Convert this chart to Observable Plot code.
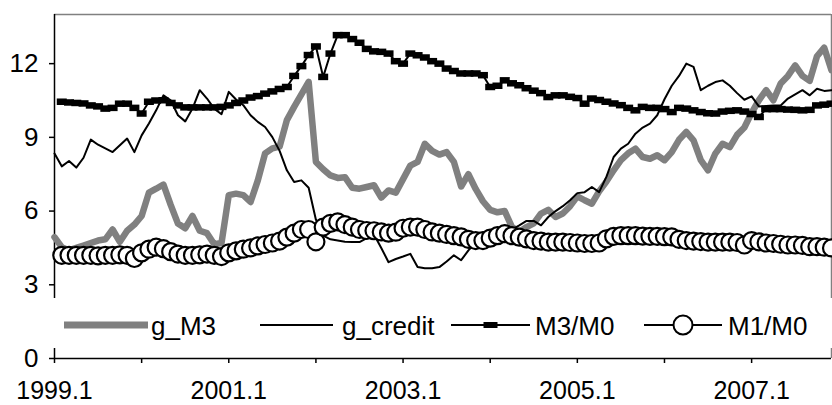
<!DOCTYPE html>
<html><head><meta charset="utf-8">
<script src="https://cdn.jsdelivr.net/npm/d3@7"></script>
<script src="https://cdn.jsdelivr.net/npm/@observablehq/plot@0.6"></script>
<style>
html,body{margin:0;padding:0;background:#fff;}
#chart{width:832px;height:405px;}
svg{font-family:"Liberation Sans",Arial,sans-serif;}
</style></head><body><div id="chart"></div>
<script>
// Monthly series, 1999.1 .. 2007.12
const gM3 = [4.94,4.53,4.4,4.5,4.6,4.7,4.8,4.85,5.25,4.75,5.2,5.45,
  5.8,6.75,6.91,7.08,6.25,5.49,5.3,5.8,5.2,5.1,4.65,4.7,
  6.65,6.71,6.65,6.37,7.25,8.35,8.55,8.62,9.7,10.24,10.75,11.26,
  8.0,7.7,7.45,7.35,7.38,6.95,6.91,6.98,7.05,6.55,6.84,6.75,
  7.3,7.85,8.0,8.74,8.45,8.3,8.4,8.0,7.0,7.5,6.9,6.4,
  6.05,5.95,6.0,5.35,5.15,5.35,5.5,5.9,6.05,5.76,5.9,6.2,
  6.6,6.44,6.3,6.8,7.2,7.66,8.07,8.35,8.54,8.2,8.13,8.27,
  8.07,8.4,8.9,9.22,8.88,8.07,7.66,8.34,8.74,8.6,9.1,9.4,
  10.0,10.51,10.92,10.51,11.19,11.5,11.93,11.5,11.3,12.3,12.65,11.73];
const gCredit = [8.34,7.82,8.04,7.77,8.17,8.91,8.7,8.55,8.4,8.68,8.95,8.4,
  9.08,9.56,10.1,10.71,10.51,9.9,9.65,10.17,10.92,10.58,10.17,9.94,
  10.85,10.54,10.31,9.9,9.63,9.42,9.01,8.45,7.66,7.18,7.25,6.95,
  5.65,5.0,4.85,4.8,4.75,4.74,4.74,4.9,5.05,4.5,3.92,4.05,
  4.15,4.26,3.72,3.67,3.67,3.72,3.95,4.2,4.0,4.4,4.7,4.8,
  4.9,5.0,5.1,5.25,5.42,5.6,5.6,5.42,5.76,6.0,6.2,6.44,
  6.73,6.77,6.98,6.77,7.39,8.2,8.54,8.74,9.15,9.4,9.56,9.9,
  10.55,11.1,11.5,12.0,11.87,10.92,11.1,11.25,11.32,11.1,10.8,10.53,
  10.67,10.26,10.28,10.3,10.3,10.58,10.75,10.92,10.71,10.98,10.89,10.92];
const m3m0 = [null,10.45,10.42,10.4,10.38,10.3,10.26,10.17,10.2,10.37,10.37,10.2,
  9.97,10.45,10.5,10.51,10.4,10.3,10.22,10.22,10.22,10.22,10.22,10.24,
  10.3,10.4,10.5,10.62,10.68,10.78,10.87,10.97,11.05,11.5,11.9,12.35,
  12.7,11.46,12.41,13.16,13.16,13.0,12.85,12.6,12.5,12.48,12.41,12.1,
  12.0,12.41,12.34,12.25,12.1,12.0,11.8,11.7,11.6,11.6,11.6,11.53,
  11.05,11.1,11.32,11.2,11.12,11.0,10.9,10.8,10.64,10.71,10.71,10.65,
  10.6,10.37,10.58,10.52,10.45,10.38,10.31,10.2,10.1,10.24,10.2,10.2,
  10.15,10.03,10.2,10.17,10.1,10.03,9.98,9.97,10.05,10.08,10.1,10.05,
  9.95,9.83,10.15,10.15,10.15,10.13,10.12,10.1,10.12,10.3,10.33,10.37];
const m1m0 = [null,4.2,4.2,4.2,4.2,4.2,4.18,4.2,4.2,4.22,4.2,4.07,
  4.3,4.45,4.53,4.47,4.35,4.25,4.2,4.2,4.22,4.25,4.2,4.15,
  4.3,4.38,4.45,4.5,4.58,4.64,4.7,4.78,4.94,5.1,5.25,5.25,
  4.75,5.35,5.5,5.56,5.45,5.35,5.25,5.21,5.2,5.15,5.1,5.14,
  5.3,5.35,5.35,5.25,5.15,5.1,5.05,5.0,4.95,4.85,4.8,4.8,
  4.9,5.0,5.08,5.0,4.94,4.87,4.8,4.78,4.74,4.74,4.74,4.72,
  4.7,4.68,4.68,4.7,4.87,4.97,5.0,5.0,5.0,4.98,4.97,4.97,
  4.96,4.95,4.85,4.8,4.78,4.76,4.74,4.74,4.74,4.74,4.72,4.62,
  4.8,4.75,4.7,4.68,4.65,4.62,4.62,4.6,4.55,4.55,4.53,4.5];
const seriesNames = ["g_M3","g_credit","M3/M0","M1/M0"];
const tickLabels = ["1999.1","2001.1","2003.1","2005.1","2007.1"];
const yTicks = [0,3,6,9,12];

const months = gM3.map((_, i) => `${1999 + Math.floor(i / 12)}.${i % 12 + 1}`);
const idx = d3.range(months.length);
const rowsOf = arr => idx.filter(i => arr[i] != null).map(i => ({i, v: arr[i]}));
const rectSymbol = (w, h) => ({draw(ctx) { ctx.rect(-w / 2, -h / 2, w, h); }});
const FONT = "26px";

const chart = Plot.plot({
  width: 832, height: 405,
  marginLeft: 54, marginRight: 1, marginTop: 14, marginBottom: 47,
  style: {fontFamily: '"Liberation Sans", Arial, sans-serif', fontSize: FONT, color: "#000", background: "#fff"},
  x: {type: "linear", domain: [0, idx.length - 1]},
  y: {domain: [0, 14]},
  marks: [
    Plot.ruleY([14], {stroke: "#808080", strokeWidth: 1.5}),
    Plot.ruleX([idx.length - 1], {stroke: "#808080", strokeWidth: 1.5}),
    Plot.ruleX([0], {stroke: "#000", strokeWidth: 1.5}),
    Plot.ruleY([0], {stroke: "#000", strokeWidth: 1.5}),
    Plot.axisY({ticks: yTicks, tickSize: 5, tickPadding: 11, label: null, fontSize: FONT, strokeWidth: 1.5}),
    Plot.axisX({ticks: d3.range(0, idx.length, 12), tickSize: 5, tickFormat: () => "", label: null, strokeWidth: 1.5}),
    Plot.axisX({ticks: tickLabels.map(l => months.indexOf(l)), tickSize: 0, tickPadding: 23,
      tickFormat: i => months[i], label: null, fontSize: "25px"}),
    Plot.line(rowsOf(gM3), {x: "i", y: "v", stroke: "#808080", strokeWidth: 6.5}),
    Plot.line(rowsOf(gCredit), {x: "i", y: "v", stroke: "#000", strokeWidth: 2}),
    Plot.line(rowsOf(m3m0), {x: "i", y: "v", stroke: "#000", strokeWidth: 2}),
    Plot.dot(rowsOf(m3m0), {x: "i", y: "v", symbol: rectSymbol(10, 6.5), r: 3, fill: "#000", stroke: "none"}),
    Plot.line(rowsOf(m1m0), {x: "i", y: "v", stroke: "#000", strokeWidth: 2}),
    Plot.dot(rowsOf(m1m0), {x: "i", y: "v", r: 8.5, fill: "#fff", stroke: "#000", strokeWidth: 2.2})
  ]
});
document.getElementById("chart").appendChild(chart);

// In-plot legend with white background (drawn over the axis lines, as in the reference)
const svg = d3.select(chart);
const lg = svg.append("g").attr("font-size", FONT).attr("fill", "#000").attr("text-anchor", "start");
lg.append("rect").attr("x", 48).attr("y", 298).attr("width", 790).attr("height", 50).attr("fill", "#fff");
const ly = 325, lb = 335;
const items = [
  {name: seriesNames[0], x1: 64, x2: 148, tx: 151, stroke: "#808080", w: 7},
  {name: seriesNames[1], x1: 260, x2: 333, tx: 342, stroke: "#000", w: 2},
  {name: seriesNames[2], x1: 451, x2: 530, tx: 535, stroke: "#000", w: 2, marker: "rect"},
  {name: seriesNames[3], x1: 644, x2: 722, tx: 728, stroke: "#000", w: 2, marker: "circle"}
];
for (const it of items) {
  lg.append("line").attr("x1", it.x1).attr("x2", it.x2).attr("y1", ly).attr("y2", ly)
    .attr("stroke", it.stroke).attr("stroke-width", it.w);
  const cx = (it.x1 + it.x2) / 2;
  if (it.marker === "rect") lg.append("rect").attr("x", cx - 7).attr("y", ly - 3).attr("width", 14).attr("height", 6).attr("fill", "#000");
  if (it.marker === "circle") lg.append("circle").attr("cx", cx).attr("cy", ly).attr("r", 9.5).attr("fill", "#fff").attr("stroke", "#000").attr("stroke-width", 2);
  lg.append("text").attr("x", it.tx).attr("y", lb).attr("text-anchor", "start").text(it.name);
}
</script></body></html>
